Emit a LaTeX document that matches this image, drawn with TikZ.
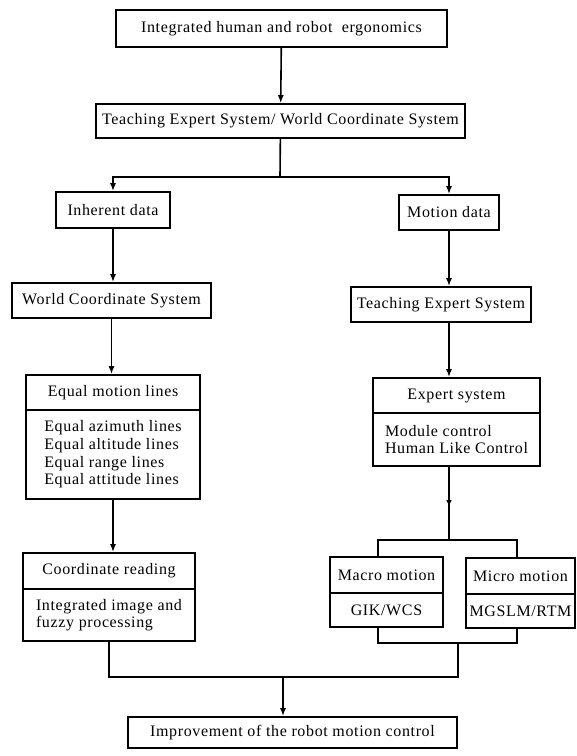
\documentclass[tikz,border=0pt]{standalone}
\usepackage{fontspec}
\setmainfont{Liberation Serif}[LetterSpace=4]
\usetikzlibrary{arrows.meta,decorations.markings}

\begin{document}
\begin{tikzpicture}[x=0.5pt,y=-0.5pt,
  box/.style={draw, line width=0.8pt, inner sep=1pt, font=\fontsize{8}{8.8}\selectfont},
  conn/.style={line width=0.8pt},
  tip/.style={conn, -{Latex[length=4pt,width=3pt]}},
  midarrow/.style={conn, postaction={decorate},
    decoration={markings, mark=at position 0.55 with {\arrow{Latex[length=3.5pt,width=2.8pt]}}}}]
\useasboundingbox (0,0) rectangle (577,756);

\node[box, minimum width=165.5pt, minimum height=18.5pt] (top) at (281.5,28.5) {Integrated human and robot\ \ ergonomics};
\node[box, minimum width=184.5pt, minimum height=17pt] (tes) at (280.5,121) {Teaching Expert System/ World Coordinate System};

\node[box, minimum width=57pt, minimum height=18pt] (inh) at (113,210) {Inherent data};
\node[box, minimum width=50pt, minimum height=17.5pt] (mot) at (449,212.5) {Motion data};

\node[box, minimum width=99.5pt, minimum height=17.5pt] (wcs) at (111.5,300.5) {World Coordinate System};
\node[box, minimum width=90pt, minimum height=17.5pt] (tch) at (441,304.5) {Teaching Expert System};

% split boxes: header on top, body below
\node[box, minimum width=87pt, minimum height=17.5pt] (eqh) at (113,392.5) {Equal motion lines};
\node[box, minimum width=87pt, minimum height=44.5pt, align=left] (eqb) at (113,454.5) {Equal azimuth lines\\Equal altitude lines\\Equal range lines\\Equal attitude lines};

\node[box, minimum width=83.5pt, minimum height=17.5pt] (exh) at (456.5,395.5) {Expert system};
\node[box, minimum width=83.5pt, minimum height=26.5pt, align=left] (exb) at (456.5,439.5) {Module control\\Human Like Control};

\node[box, minimum width=86pt, minimum height=18pt] (crh) at (109,571) {Coordinate reading};
\node[box, minimum width=86pt, minimum height=26pt, align=left] (crb) at (109,615) {Integrated image and\\fuzzy processing};

\node[box, minimum width=56.5pt, minimum height=18pt] (mah) at (386.5,575) {Macro motion};
\node[box, minimum width=56.5pt, minimum height=17pt] (mab) at (386.5,610) {GIK/WCS};
\node[box, minimum width=54.5pt, minimum height=18pt] (mih) at (520.5,576) {Micro motion};
\node[box, minimum width=54.5pt, minimum height=17pt] (mib) at (520.5,611) {MGSLM/RTM};

\node[box, minimum width=164.5pt, minimum height=15.5pt] (imp) at (292.5,732.5) {Improvement of the robot motion control};

% junction points
\coordinate (fork) at (280,177);
\coordinate (split) at (449,540);
\coordinate (mlft) at (378,540);
\coordinate (mrgt) at (517,540);
\coordinate (blft) at (378,643);
\coordinate (brgt) at (517,643);
\coordinate (join) at (458,643);
\coordinate (merge) at (458,677);
\coordinate (drop) at (283,677);

\draw[tip] (top) -- (tes);
\draw[conn] (tes) -- (fork);
\draw[tip] (fork) -| (inh);
\draw[tip] (fork) -| (mot);

\draw[tip] (inh) -- (inh |- wcs.north);
\draw[tip] (wcs) -- (wcs |- eqh.north);
\draw[tip] (eqb) -- (eqb |- crh.north);

\draw[tip] (mot) -- (mot |- tch.north);
\draw[tip] (tch.south -| mot) -- (exh.north -| mot);
\draw[midarrow] (exb.south -| mot) -- (split);
\draw[conn] (mah.north -| mlft) -- (mlft) -- (mrgt) -- (mih.north -| mrgt);
\draw[conn] (mab.south -| blft) -- (blft) -- (brgt) -- (mib.south -| brgt);

\draw[conn] (join) -- (merge) -- (merge -| crb.south) -- (crb.south);
\draw[tip] (drop) -- (drop |- imp.north);
\end{tikzpicture}
\end{document}
